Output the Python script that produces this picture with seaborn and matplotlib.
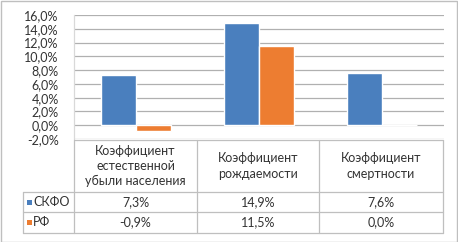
import pandas as pd
import numpy as np
import seaborn as sns
import matplotlib.pyplot as plt
from matplotlib.lines import Line2D
from matplotlib.patches import Rectangle

categories = ['Коэффициент\nестественной\nубыли населения',
              'Коэффициент\nрождаемости',
              'Коэффициент\nсмертности']
series = ['СКФО', 'РФ']
skfo = [7.3, 14.9, 7.6]
rf = [-0.9, 11.5, 0.0]
yticks = [-2, 0, 2, 4, 6, 8, 10, 12, 14, 16]

colors = ['#4A7FBE', '#ED7D31']
txt = '#333333'
line_c = '#BFBFBF'

df = pd.DataFrame({'cat': categories * 2,
                   'series': [series[0]] * 3 + [series[1]] * 3,
                   'value': skfo + rf})

sns.set_style('white')
plt.rcParams['font.family'] = ['Lato', 'DejaVu Sans']

W, H = 458, 242
fig = plt.figure(figsize=(W / 100, H / 100), dpi=100)
fig.patch.set_facecolor('white')

def fx(px):
    return px / W

def fy(py):
    return 1 - py / H

x0, x1, ytop, ybot = 74, 444, 15, 139
ax = fig.add_axes([fx(x0), fy(ybot), fx(x1 - x0), (ybot - ytop) / H])
sns.barplot(data=df, x='cat', y='value', hue='series', palette=colors,
            width=0.57, ax=ax, legend=False, saturation=1)
ax.set_xlim(-0.5, 2.5)
ax.set_ylim(-2, 16)
ax.set_yticks(yticks)
ax.set_yticklabels([f'{v:.1f}%'.replace('.', ',') for v in yticks],
                   fontsize=9, color=txt)
ax.set_xticks([])
ax.set_xlabel('')
ax.set_ylabel('')
ax.tick_params(axis='y', length=0, pad=11)
for v in yticks:
    ax.axhline(v, color='#B0B0B0', lw=0.9, zorder=0)
for s in ['top', 'right', 'bottom']:
    ax.spines[s].set_visible(False)
ax.spines['left'].set_color('#D9D9D9')
ax.spines['left'].set_linewidth(0.9)
ax.set_axisbelow(True)

# data table
def hline(y, xa, xb):
    fig.add_artist(Line2D([fx(xa), fx(xb)], [fy(y), fy(y)], color=line_c, lw=0.9))

def vline(x, ya, yb):
    fig.add_artist(Line2D([fx(x), fx(x)], [fy(ya), fy(yb)], color=line_c, lw=0.9))

cols = [74, 197, 319, 443]
hline(140, 74, 443)
hline(192, 23, 443)
hline(212, 23, 443)
hline(233, 23, 443)
for c in cols:
    vline(c, 140, 233)
vline(23, 192, 233)

for i, cat in enumerate(categories):
    cx = (cols[i] + cols[i + 1]) / 2
    fig.text(fx(cx), fy(166), cat, ha='center', va='center', fontsize=9,
             color=txt, linespacing=1.3)
    fig.text(fx(cx), fy(202), f'{skfo[i]:.1f}%'.replace('.', ','),
             ha='center', va='center', fontsize=9, color=txt)
    fig.text(fx(cx), fy(222.5), f'{rf[i]:.1f}%'.replace('.', ','),
             ha='center', va='center', fontsize=9, color=txt)

for j, (name, yy) in enumerate(zip(series, [202, 222.5])):
    fig.add_artist(Rectangle((fx(27), fy(yy + 2.5)), fx(5), 5 / H,
                             facecolor=colors[j], edgecolor='none'))
    fig.text(fx(33), fy(yy), name, ha='left', va='center', fontsize=9, color=txt)

fig.add_artist(Rectangle((0.5 / W, 0.5 / H), 1 - 1.5 / W, 1 - 1.5 / H,
                         facecolor='none', edgecolor='#BFBFBF', lw=1))

fig.savefig('out.png', dpi=100)
